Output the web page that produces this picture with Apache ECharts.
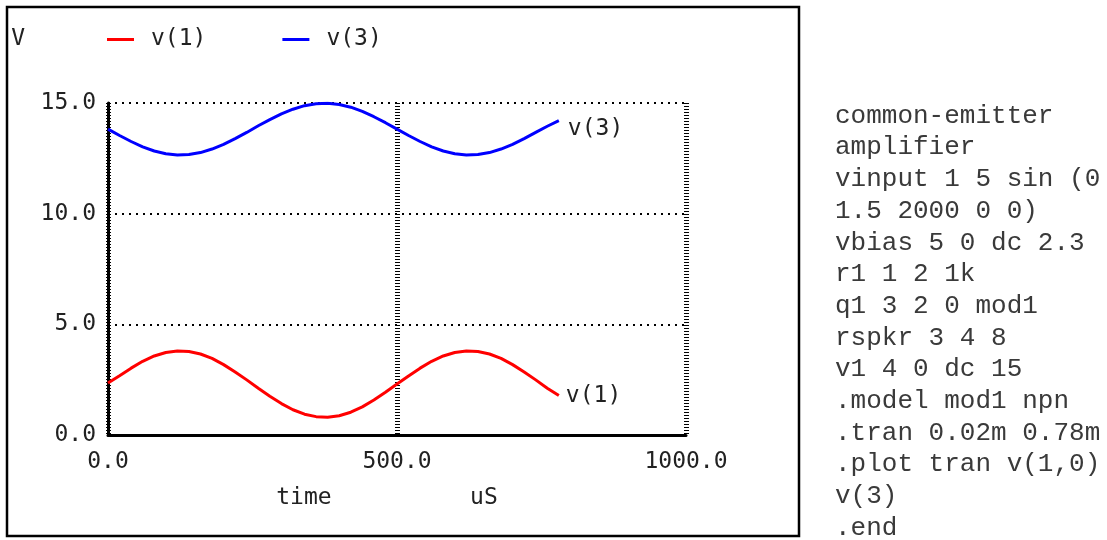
<!DOCTYPE html>
<html>
<head>
<meta charset="utf-8">
<script src="https://cdn.jsdelivr.net/npm/echarts@6/dist/echarts.min.js"></script>
<style>html,body{margin:0;padding:0;background:#fff;}#c{width:1107px;height:540px;}</style>
</head>
<body>
<div id="c"></div>
<script>
// time in uS (0.02m step, 0.78m stop)
const timeUs = [0,20,40,60,80,100,120,140,160,180,200,220,240,260,280,300,320,340,360,380,
                400,420,440,460,480,500,520,540,560,580,600,620,640,660,680,700,720,740,760,780];
// v(1)
const v1 = [2.35,2.68,3.02,3.33,3.57,3.73,3.80,3.77,3.66,3.46,3.18,2.85,2.49,2.11,1.75,1.42,1.14,0.94,0.83,0.80,
            0.87,1.03,1.27,1.58,1.93,2.30,2.67,3.02,3.33,3.57,3.73,3.80,3.77,3.66,3.46,3.18,2.85,2.49,2.11,1.78];
// v(3)
const v3 = [13.82,13.53,13.26,13.02,12.83,12.71,12.65,12.67,12.76,12.92,13.13,13.39,13.67,13.97,14.25,14.51,14.72,14.88,14.97,14.99,
            14.93,14.81,14.62,14.38,14.11,13.82,13.53,13.26,13.02,12.83,12.71,12.65,12.67,12.76,12.92,13.13,13.39,13.67,13.95,14.20];
const seriesNames = ['v(1)', 'v(3)'];
const xTicks = [0, 500, 1000];
const yTicks = [0, 5, 10, 15];
const netlist = [
  'common-emitter',
  'amplifier',
  'vinput 1 5 sin (0',
  '1.5 2000 0 0)',
  'vbias 5 0 dc 2.3',
  'r1 1 2 1k',
  'q1 3 2 0 mod1',
  'rspkr 3 4 8',
  'v1 4 0 dc 15',
  '.model mod1 npn',
  '.tran 0.02m 0.78m',
  '.plot tran v(1,0)',
  'v(3)',
  '.end'
];

const FONT = 'DejaVu Sans Mono';
const FS = 23;
const TXT = '#222';
const chart = echarts.init(document.getElementById('c'), null, {renderer: 'canvas'});
chart.setOption({
  animation: false,
  backgroundColor: '#fff',
  title: {
    text: netlist.join('\n'),
    left: 830, top: 95,
    textStyle: {fontFamily: 'Liberation Mono', fontSize: 26, fontWeight: 'normal', color: '#3a3a3a', lineHeight: 31.7}
  },
  graphic: [{
    type: 'rect', silent: true,
    shape: {x: 7, y: 7, width: 792, height: 529},
    style: {fill: 'none', stroke: '#000', lineWidth: 2.5}
  }],
  legend: {
    left: 107, top: 28, padding: 0,
    itemWidth: 27, itemHeight: 3, itemGap: 76,
    icon: 'rect',
    data: seriesNames,
    textStyle: {fontFamily: FONT, fontSize: FS, color: TXT, padding: [0, 0, 0, 12]}
  },
  grid: {left: 108, right: 421, top: 103, bottom: 105, containLabel: false},
  xAxis: {
    type: 'value', min: xTicks[0], max: xTicks[xTicks.length - 1], interval: 500,
    name: 'time          uS', nameLocation: 'middle', nameGap: 52,
    nameTextStyle: {fontFamily: FONT, fontSize: FS, color: TXT, padding: [0, 20, 0, 0]},
    axisLine: {show: true, onZero: false, lineStyle: {color: '#000', width: 3}},
    axisTick: {show: false},
    axisLabel: {fontFamily: FONT, fontSize: FS, color: TXT, margin: 16,
      formatter: v => v.toFixed(1)},
    splitLine: {show: true, lineStyle: {color: '#000', width: 5, type: [1, 2]}}
  },
  yAxis: {
    type: 'value', min: yTicks[0], max: yTicks[yTicks.length - 1], interval: 5,
    name: 'V', nameLocation: 'end', nameGap: 52,
    nameTextStyle: {fontFamily: FONT, fontSize: FS, color: TXT, align: 'right', padding: [0, 83, 0, 0]},
    axisLine: {show: true, lineStyle: {color: '#000', width: 3}},
    axisTick: {show: false},
    axisLabel: {fontFamily: FONT, fontSize: FS, color: TXT, margin: 12,
      formatter: v => v.toFixed(1)},
    splitLine: {show: true, lineStyle: {color: '#000', width: 2, type: [2, 5]}}
  },
  series: [
    {
      name: seriesNames[0], type: 'line', showSymbol: false,
      data: timeUs.map((t, i) => [t, v1[i]]),
      lineStyle: {color: '#ff0000', width: 3}, itemStyle: {color: '#ff0000'},
      endLabel: {show: true, formatter: seriesNames[0], fontFamily: FONT, fontSize: FS, color: TXT, distance: 7, offset: [0, 0]}
    },
    {
      name: seriesNames[1], type: 'line', showSymbol: false,
      data: timeUs.map((t, i) => [t, v3[i]]),
      lineStyle: {color: '#0000ff', width: 3}, itemStyle: {color: '#0000ff'},
      endLabel: {show: true, formatter: seriesNames[1], fontFamily: FONT, fontSize: FS, color: TXT, distance: 9, offset: [0, 8]}
    }
  ]
});
</script>
</body>
</html>
